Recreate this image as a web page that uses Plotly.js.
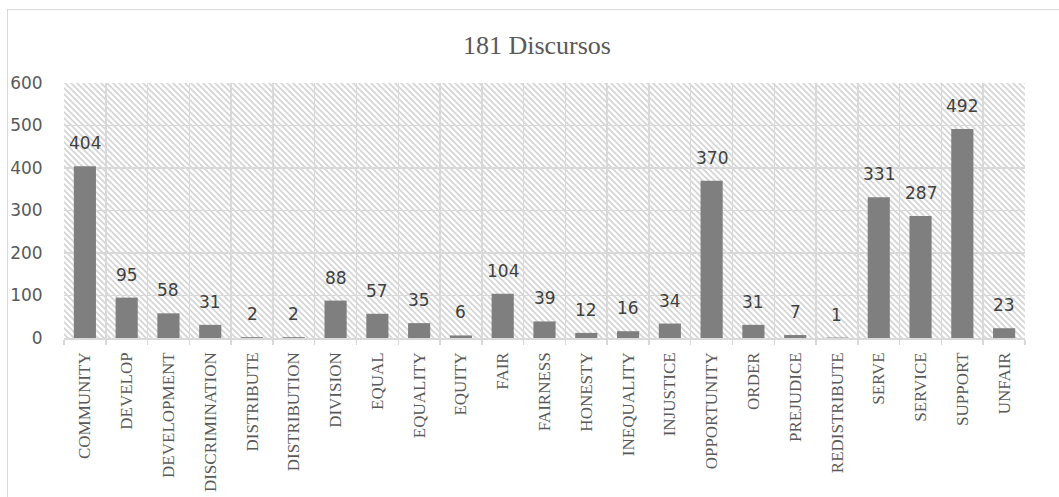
<!DOCTYPE html>
<html>
<head>
<meta charset="utf-8">
<script src="https://cdn.plot.ly/plotly-3.0.1.min.js"></script>
<style>
  html, body { margin: 0; padding: 0; background: #fff; overflow: hidden; }
  #chart { position: absolute; left: 0; top: 0; width: 1059px; height: 497px; }
  #frame { position: absolute; left: 7px; top: 9px; width: 1200px; height: 700px;
           border: 1.5px solid #d9d9d9; pointer-events: none; box-sizing: border-box; }
</style>
</head>
<body>
<div id="chart"></div>
<div id="frame"></div>
<script>
const categories = ["COMMUNITY","DEVELOP","DEVELOPMENT","DISCRIMINATION","DISTRIBUTE","DISTRIBUTION",
  "DIVISION","EQUAL","EQUALITY","EQUITY","FAIR","FAIRNESS","HONESTY","INEQUALITY","INJUSTICE",
  "OPPORTUNITY","ORDER","PREJUDICE","REDISTRIBUTE","SERVE","SERVICE","SUPPORT","UNFAIR"];
const counts = [404,95,58,31,2,2,88,57,35,6,104,39,12,16,34,370,31,7,1,331,287,492,23];
const yTicks = [0,100,200,300,400,500,600];
const chartTitle = "181 Discursos";

const trace = {
  type: "bar",
  x: categories,
  y: counts,
  marker: { color: "#7f7f7f", line: { width: 0 } },
  hoverinfo: "x+y"
};

const annotations = categories.map((c, i) => ({
  x: c, y: counts[i], xref: "x", yref: "y",
  text: String(counts[i]), showarrow: false,
  yanchor: "bottom", yshift: 11,
  font: { family: "DejaVu Sans", size: 17, color: "#404040" }
}));

const layout = {
  width: 1059, height: 497,
  margin: { l: 64, r: 34, t: 83, b: 159, pad: 0 },
  paper_bgcolor: "rgba(0,0,0,0)",
  plot_bgcolor: "#ffffff",
  bargap: 0.47,
  showlegend: false,
  title: {
    text: chartTitle,
    font: { family: "Liberation Serif, Times New Roman, serif", size: 26, color: "#595959" },
    x: 0.507, xanchor: "center", xref: "container",
    y: 0.91, yanchor: "middle", yref: "container"
  },
  xaxis: {
    type: "category",
    tickson: "boundaries",
    tickangle: -90,
    ticks: "outside", ticklen: 5, tickcolor: "#d9d9d9", tickwidth: 1.5,
    ticklabelstandoff: 6,
    showgrid: true, gridcolor: "#d9d9d9", gridwidth: 1.5,
    showline: true, linecolor: "#d9d9d9", linewidth: 1.5,
    tickfont: { family: "Liberation Serif, Times New Roman, serif", size: 17, color: "#595959" },
    fixedrange: true
  },
  yaxis: {
    range: [0, 600],
    tickvals: yTicks,
    ticktext: yTicks.map(String),
    ticks: "outside", ticklen: 17, tickcolor: "rgba(0,0,0,0)",
    showgrid: true, gridcolor: "#d9d9d9", gridwidth: 1.5,
    zeroline: false, showline: false,
    tickfont: { family: "DejaVu Sans", size: 17, color: "#595959" },
    fixedrange: true
  },
  annotations: annotations
};

Plotly.newPlot("chart", [trace], layout, { displayModeBar: false, staticPlot: true }).then(gd => {
  const svgNS = "http://www.w3.org/2000/svg";
  const svg = gd.querySelector("svg.main-svg");
  let defs = svg.querySelector("defs");
  if (!defs) { defs = document.createElementNS(svgNS, "defs"); svg.insertBefore(defs, svg.firstChild); }
  const pat = document.createElementNS(svgNS, "pattern");
  pat.setAttribute("id", "hatchbg");
  pat.setAttribute("patternUnits", "userSpaceOnUse");
  pat.setAttribute("width", "6");
  pat.setAttribute("height", "6");
  const bgr = document.createElementNS(svgNS, "rect");
  bgr.setAttribute("width", "6"); bgr.setAttribute("height", "6"); bgr.setAttribute("fill", "#ffffff");
  pat.appendChild(bgr);
  [["-1","5","1","7"],["0","0","6","6"],["5","-1","7","1"]].forEach(p => {
    const l = document.createElementNS(svgNS, "line");
    l.setAttribute("x1", p[0]); l.setAttribute("y1", p[1]);
    l.setAttribute("x2", p[2]); l.setAttribute("y2", p[3]);
    l.setAttribute("stroke", "#d4d4d4"); l.setAttribute("stroke-width", "1.6");
    pat.appendChild(l);
  });
  defs.appendChild(pat);
  gd.querySelectorAll("rect.bg").forEach(r => { r.style.fill = "url(#hatchbg)"; });
});
</script>
</body>
</html>
